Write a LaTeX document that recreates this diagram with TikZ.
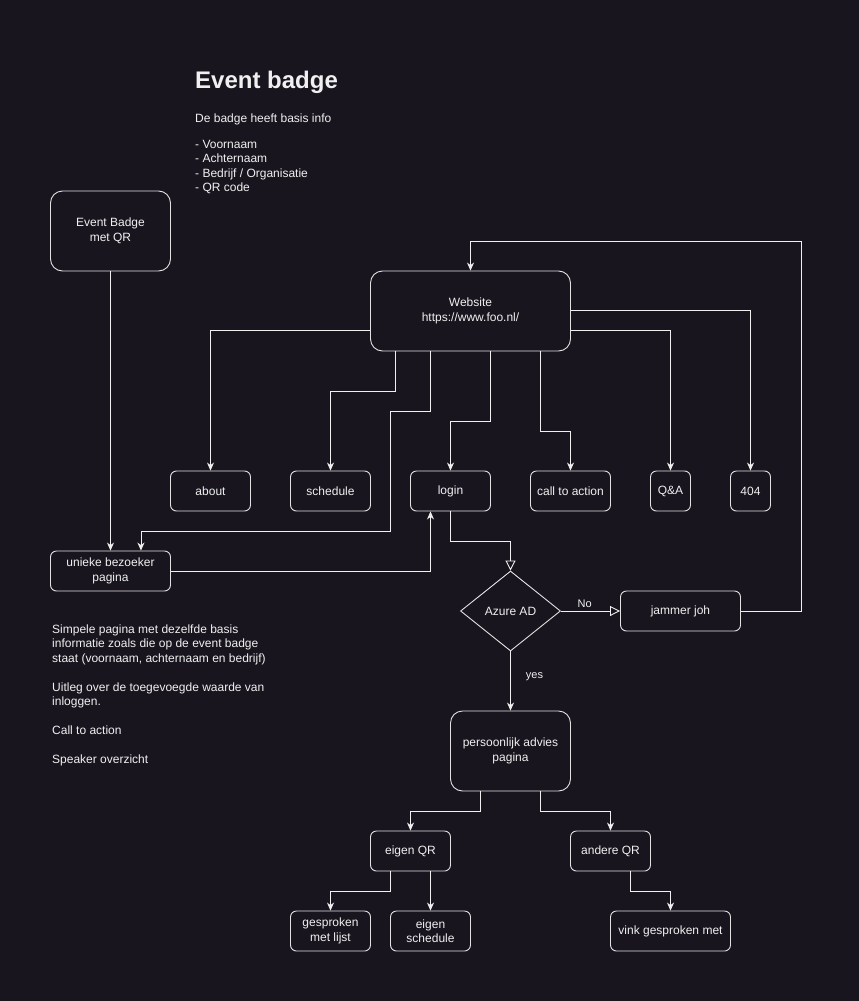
\documentclass[tikz,border=0pt]{standalone}
\usepackage{fontspec}
\setmainfont{Liberation Sans}
\usetikzlibrary{shapes.geometric,arrows.meta,calc}
\definecolor{bg}{RGB}{24,21,30}
\definecolor{fg}{RGB}{240,240,240}
\definecolor{edge}{RGB}{226,226,226}
\begin{document}
\begin{tikzpicture}[x=1pt,y=-1pt,
  every node/.style={text=fg, font=\fontsize{12}{14.5}\selectfont},
  box/.style={draw=edge, line width=0.9pt, rounded corners=6pt, inner sep=0pt, align=center, minimum width=80pt, minimum height=40pt},
  bigbox/.style={box, rounded corners=12pt, minimum width=120pt, minimum height=80pt},
  txt/.style={anchor=base west, inner sep=0pt},
  conn/.style={draw=fg, line width=0.9pt, -{Stealth[length=8pt,width=7pt,inset=2.5pt]}},
  oconn/.style={draw=fg, line width=0.9pt, -{Triangle[open,length=10pt,width=10pt,fill=bg]}},
  lbl/.style={font=\fontsize{11}{13}\selectfont, inner sep=1pt}]
\fill[bg] (0,0) rectangle (859,1001);
\useasboundingbox (0,0) rectangle (859,1001);

% header text
\node[txt, font=\bfseries\fontsize{24}{28}\selectfont] (title) at (195,88) {Event badge};
\node[txt] (intro) at (195,122) {De badge heeft basis info};
\node[txt] (l1) at (195,148) {- Voornaam};
\node[txt] (l2) at (195,162.5) {- Achternaam};
\node[txt] (l3) at (195,177) {- Bedrijf / Organisatie};
\node[txt] (l4) at (195,191.5) {- QR code};

% left description
\node[txt] (d1) at (52,633) {Simpele pagina met dezelfde basis};
\node[txt] (d2) at (52,647.5) {informatie zoals die op de event badge};
\node[txt] (d3) at (52,662) {staat (voornaam, achternaam en bedrijf)};
\node[txt] (d4) at (52,691) {Uitleg over de toegevoegde waarde van};
\node[txt] (d5) at (52,705.5) {inloggen.};
\node[txt] (d6) at (52,734.5) {Call to action};
\node[txt] (d7) at (52,763.5) {Speaker overzicht};

% nodes
\node[bigbox] (badge) at (110.5,231) {Event Badge\\met QR};
\node[bigbox, minimum width=200pt] (web) at (470.5,311) {Website\\https://www.foo.nl/};
\node[box] (about) at (210.5,491) {about};
\node[box] (sched) at (330.5,491) {schedule};
\node[box] (login) at (450.5,491) {login};
\node[box] (cta) at (570.5,491) {call to action};
\node[box, minimum width=40pt] (qa) at (670.5,491) {Q\&A};
\node[box, minimum width=40pt] (e404) at (750.5,491) {404};
\node[box, minimum width=120pt] (unieke) at (110.5,571) {unieke bezoeker\\pagina};
\node[diamond, draw=edge, line width=0.9pt, inner sep=0pt, minimum width=100pt, minimum height=80pt, aspect=1.25] (azure) at (510.5,611) {Azure AD};
\node[box, minimum width=120pt] (jammer) at (680.5,611) {jammer joh};
\node[bigbox] (pers) at (510.5,751) {persoonlijk advies\\pagina};
\node[box] (eigenqr) at (410.5,851) {eigen QR};
\node[box] (andereqr) at (610.5,851) {andere QR};
\node[box] (gesp) at (330.5,931) {gesproken\\met lijst};
\node[box] (eigensch) at (430.5,931) {eigen\\schedule};
\node[box, minimum width=120pt] (vink) at (670.5,931) {vink gesproken met};

% connectors
\draw[conn] (badge.south) -- (unieke.north);
\draw[conn] ($(web.west)+(0,19.5)$) -| (about.north);
\draw[conn] ($(web.south west)+(25,0)$) -- ++(0,40) -| (sched.north);
\draw[conn] ($(web.south west)+(60,0)$) -- ++(0,60) -- ++(-40,0) -- ++(0,120) -| ($(unieke.north east)+(-30,0)$);
\draw[conn] ($(web.south west)+(120,0)$) -- ++(0,70) -| (login.north);
\draw[conn] ($(web.south west)+(170,0)$) -- ++(0,80) -| (cta.north);
\draw[conn] ($(web.east)+(0,19.5)$) -| (qa.north);
\draw[conn] ($(web.east)+(0,-0.5)$) -| (e404.north);
\draw[conn] (unieke.east) -| ($(login.south)+(-20,0)$);
\draw[oconn] (login.south) -- ++(0,30) -| (azure.north);
\draw[oconn] (azure.east) -- node[lbl, above=2pt, pos=0.4] (no) {No} (jammer.west);
\draw[conn] (jammer.east) -- ++(60,0) -- ++(0,-370) -| (web.north);
\draw[conn] (azure.south) -- node[lbl, right=14pt, pos=0.42] (yes) {yes} (pers.north);
\draw[conn] ($(pers.south)+(-30,0)$) -- ++(0,20) -| (eigenqr.north);
\draw[conn] ($(pers.south)+(30,0)$) -- ++(0,20) -| (andereqr.north);
\draw[conn] ($(eigenqr.south)+(-20,0)$) -- ++(0,20) -| (gesp.north);
\draw[conn] ($(eigenqr.south)+(20,0)$) -- (eigensch.north);
\draw[conn] ($(andereqr.south)+(20,0)$) -- ++(0,20) -| (vink.north);
\end{tikzpicture}
\end{document}
